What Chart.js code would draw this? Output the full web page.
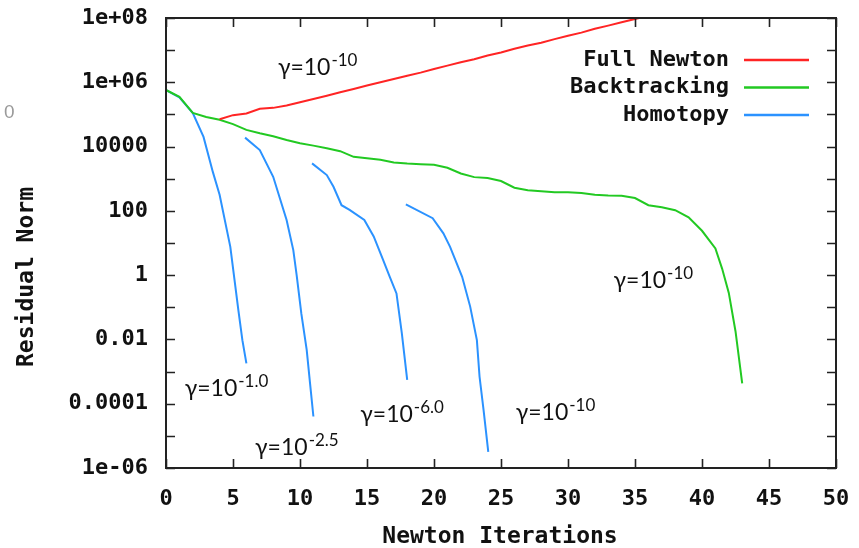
<!DOCTYPE html>
<html>
<head>
<meta charset="utf-8">
<script src="https://cdn.jsdelivr.net/npm/chart.js@4.4.1/dist/chart.umd.min.js"></script>
<style>
  html, body { margin: 0; padding: 0; background: #fff; }
  #wrap { width: 859px; height: 548px; }
</style>
</head>
<body>
<div id="wrap"><canvas id="chart" width="859" height="548"></canvas></div>
<script>
// Full Newton
const newtonIter = [4, 5, 6, 7, 8, 9, 10, 11, 12, 13, 14, 15, 16, 17, 18, 19, 20,
  21, 22, 23, 24, 25, 26, 27, 28, 29, 30, 31, 32, 33, 34, 35, 36];
const newtonRes = [7.1e4, 9.5e4, 1.07e5, 1.5e5, 1.6e5, 1.9e5, 2.4e5, 3.0e5, 3.8e5, 4.9e5,
  6.2e5, 7.9e5, 1.0e6, 1.26e6, 1.6e6, 2.0e6, 2.6e6, 3.3e6, 4.2e6, 5.2e6, 6.8e6, 8.5e6,
  1.1e7, 1.4e7, 1.7e7, 2.2e7, 2.8e7, 3.5e7, 4.6e7, 5.8e7, 7.4e7, 9.3e7, 1.17e8];

// Backtracking
const backIter = [0, 1, 2, 3, 4, 5, 6, 7, 8, 9, 10, 11, 12, 13, 14, 15, 16, 17, 18, 19,
  20, 21, 22, 23, 24, 25, 26, 27, 28, 29, 30, 31, 32, 33, 34, 35, 36, 37, 38, 39, 40,
  41, 41.5, 42, 42.5, 43];
const backRes = [5.75e5, 3.55e5, 1.12e5, 8.3e4, 6.8e4, 5.0e4, 3.3e4, 2.6e4, 2.1e4, 1.6e4,
  1.26e4, 1.07e4, 8.9e3, 7.2e3, 4.8e3, 4.3e3, 3.9e3, 3.2e3, 2.95e3, 2.8e3, 2.7e3, 2.2e3,
  1.45e3, 1.12e3, 1.05e3, 850, 525, 440, 410, 380, 380, 360, 315, 300, 295, 250, 150,
  130, 105, 63, 24, 6.8, 1.6, 0.28, 0.018, 4.3e-4];

// Homotopy: four continuation runs, null marks a break between runs
const homIter = [0, 1, 2, 2.8, 3.5, 4, 4.8, 5.4, 5.7, 6, null,
  5.9, 7, 8, 9, 9.5, 9.75, 10.1, 10.5, 10.75, 11, null,
  10.9, 12, 12.5, 13.1, 13.7, 14.8, 15.5, 16.2, 16.7, 17.2, 17.6, 18, null,
  17.9, 19.9, 20.7, 21.2, 22.1, 22.7, 23.2, 23.4, 23.7, 24.05];
const homRes = [5.75e5, 3.4e5, 1.1e5, 2.0e4, 1.6e3, 316, 7.6, 0.081, 9.5e-3, 1.8e-3, null,
  1.9e4, 7.8e3, 1.15e3, 52, 6.0, 1.0, 0.063, 4.7e-3, 4.3e-4, 4.0e-5, null,
  3.0e3, 1.3e3, 560, 150, 107, 52, 16, 3.0, 0.89, 0.27, 0.0155, 5.5e-4, null,
  160, 59, 20, 7.6, 0.89, 0.105, 9.5e-3, 6.9e-4, 6.3e-5, 3.2e-6];

const xTicks = [0, 5, 10, 15, 20, 25, 30, 35, 40, 45, 50];
const yTicks = [1e-6, 1e-5, 1e-4, 1e-3, 1e-2, 1e-1, 1, 10, 100, 1e3, 1e4, 1e5, 1e6, 1e7, 1e8];
const yTickLabels = ['1e-06', '', '0.0001', '', '0.01', '', '1', '', '100', '', '10000', '', '1e+06', '', '1e+08'];

// gamma labels: [x, y, exponent] in data units (left/baseline of the text)
const gammaLabels = [
  [8.35, 1.7e6, '-10'],
  [33.4, 0.4, '-10'],
  [1.4, 1.7e-4, '-1.0'],
  [6.65, 2.5e-6, '-2.5'],
  [14.5, 2.7e-5, '-6.0'],
  [26.1, 3.1e-5, '-10']
];

const mono = '"DejaVu Sans Mono", "Liberation Mono", monospace';
const toPts = (xs, ys) => xs.map((x, i) => ({ x: x, y: ys[i] }));

const gnuplotDecor = {
  id: 'gnuplotDecor',
  afterDatasetsDraw(chart) {
    const { ctx, chartArea: a, scales } = chart;
    const xs = scales.x, ys = scales.y;
    ctx.save();

    // frame
    ctx.strokeStyle = '#222';
    ctx.lineWidth = 2;
    ctx.strokeRect(a.left, a.top, a.right - a.left, a.bottom - a.top);

    // inward ticks, mirrored
    ctx.lineWidth = 1.6;
    ctx.beginPath();
    xTicks.forEach(v => {
      const px = Math.round(xs.getPixelForValue(v)) + 0.5;
      ctx.moveTo(px, a.bottom); ctx.lineTo(px, a.bottom - 9);
      ctx.moveTo(px, a.top); ctx.lineTo(px, a.top + 9);
    });
    yTicks.forEach(v => {
      const py = Math.round(ys.getPixelForValue(v)) + 0.5;
      ctx.moveTo(a.left, py); ctx.lineTo(a.left + 9, py);
      ctx.moveTo(a.right, py); ctx.lineTo(a.right - 9, py);
    });
    ctx.stroke();

    // legend, gnuplot style (text right-aligned, sample line to the right)
    ctx.font = 'bold 22px ' + mono;
    ctx.textAlign = 'right';
    ctx.textBaseline = 'middle';
    chart.data.datasets.forEach((ds, i) => {
      const y = 60 + i * 27.5;
      ctx.fillStyle = '#111';
      ctx.fillText(ds.label, 729, y);
      ctx.strokeStyle = ds.borderColor;
      ctx.lineWidth = 2.5;
      ctx.beginPath();
      ctx.moveTo(744, y); ctx.lineTo(809, y);
      ctx.stroke();
    });

    // gamma annotations
    ctx.textAlign = 'left';
    ctx.textBaseline = 'alphabetic';
    ctx.fillStyle = '#111';
    gammaLabels.forEach(([gx, gy, ex]) => {
      const px = xs.getPixelForValue(gx);
      const py = ys.getPixelForValue(gy);
      ctx.font = '23px Lato, "Open Sans", sans-serif';
      const base = 'γ=10';
      ctx.fillText(base, px, py);
      const w = ctx.measureText(base).width;
      ctx.font = '17px Lato, "Open Sans", sans-serif';
      ctx.fillText(ex, px + w + 1, py - 9);
    });

    // axis titles
    ctx.font = 'bold 23px ' + mono;
    ctx.fillStyle = '#111';
    ctx.textAlign = 'center';
    ctx.textBaseline = 'middle';
    ctx.fillText('Newton Iterations', 500, 537);
    ctx.save();
    ctx.translate(27, 277);
    ctx.rotate(-Math.PI / 2);
    ctx.fillText('Residual Norm', 0, 0);
    ctx.restore();

    // stray glyph at the left edge of the original image
    ctx.font = '19px "Liberation Sans", sans-serif';
    ctx.fillStyle = '#9a9a9a';
    ctx.textAlign = 'left';
    ctx.fillText('0', 4, 113);

    ctx.restore();
  }
};

new Chart(document.getElementById('chart'), {
  type: 'line',
  data: {
    datasets: [
      { label: 'Full Newton', data: toPts(newtonIter, newtonRes), borderColor: '#ff2424' },
      { label: 'Backtracking', data: toPts(backIter, backRes), borderColor: '#22c922' },
      { label: 'Homotopy', data: toPts(homIter, homRes), borderColor: '#2b92ff' }
    ]
  },
  options: {
    responsive: false,
    animation: false,
    events: [],
    layout: { padding: { top: 18, right: 23, left: 0, bottom: 0 }, autoPadding: false },
    datasets: { line: { borderWidth: 2, pointRadius: 0, tension: 0, spanGaps: false, fill: false } },
    plugins: { legend: { display: false }, tooltip: { enabled: false } },
    scales: {
      x: {
        type: 'linear',
        min: 0,
        max: 50,
        afterBuildTicks: s => { s.ticks = xTicks.map(v => ({ value: v })); },
        afterFit: s => { s.height = 80; s.paddingLeft = 0; s.paddingRight = 0; },
        grid: { display: false, drawTicks: false },
        border: { display: false },
        ticks: {
          autoSkip: false,
          maxRotation: 0,
          padding: 18,
          color: '#111',
          font: { family: mono, size: 22, weight: 'bold' }
        }
      },
      y: {
        type: 'logarithmic',
        min: 1e-6,
        max: 1e8,
        afterBuildTicks: s => { s.ticks = yTicks.map(v => ({ value: v })); },
        afterFit: s => { s.width = 166; s.paddingTop = 0; s.paddingBottom = 0; },
        grid: { display: false, drawTicks: false },
        border: { display: false },
        ticks: {
          autoSkip: false,
          padding: 18,
          color: '#111',
          font: { family: mono, size: 22, weight: 'bold' },
          callback: (v, i) => yTickLabels[i]
        }
      }
    }
  },
  plugins: [gnuplotDecor]
});
</script>
</body>
</html>
